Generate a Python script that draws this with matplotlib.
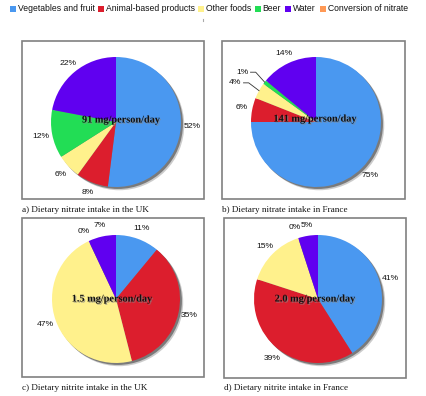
import matplotlib
matplotlib.use("Agg")
import matplotlib.pyplot as plt
import matplotlib.patches as mpatches
import matplotlib.patheffects as pe
import numpy as np

# ---- data ----
categories = ["Vegetables and fruit", "Animal-based products", "Other foods",
              "Beer", "Water", "Conversion of nitrate"]
colors = ["#4A98F0", "#DC1E2D", "#FFF18C", "#22DD55", "#6000F0", "#FF9955"]

nitrate_uk = [52, 8, 6, 12, 22]
nitrate_fr = [75, 6, 4, 1, 14]
nitrite_uk = [11, 35, 47, 0, 7]
nitrite_fr = [41, 39, 15, 0, 5]

totals = ["91 mg/person/day", "141 mg/person/day",
          "1.5 mg/person/day", "2.0 mg/person/day"]
captions = ["a) Dietary nitrate intake in the UK",
            "b) Dietary nitrate intake in France",
            "c) Dietary nitrite intake in the UK",
            "d) Dietary nitrite intake in France"]
series = [nitrate_uk, nitrate_fr, nitrite_uk, nitrite_fr]

# ---- layout (pixels, from top-left) ----
W, H = 426, 396
fig = plt.figure(figsize=(W / 100, H / 100), dpi=100)
fig.patch.set_facecolor("white")

def fx(x):
    return x / W

def fy(y):
    return 1 - y / H

boxes = [(22, 41, 204, 199), (222, 41, 405, 199),
         (22, 218, 204, 377), (224, 218, 406, 378)]
centers = [(116, 122, 65), (316, 122, 65), (116, 299, 64), (318, 299, 64)]
text_pos = [(121, 120), (315, 119), (112, 299), (315, 299)]
caption_y = [210, 210, 388, 388]
# labels that use leader lines (panel index, slice index)
leader = {(1, 2), (1, 3)}

# background axes for boxes/text
bg = fig.add_axes([0, 0, 1, 1])
bg.set_xlim(0, W)
bg.set_ylim(H, 0)
bg.axis("off")

for (x0, y0, x1, y1) in boxes:
    bg.add_patch(mpatches.Rectangle((x0, y0), x1 - x0, y1 - y0, fill=False,
                                    edgecolor="#808080", linewidth=1.2))

for i, cap in enumerate(captions):
    bg.text(boxes[i][0], caption_y[i], cap, fontsize=6.6,
            family="Liberation Serif", va="center", ha="left", color="#111111")

# legend
leg_sq_x = [10, 98, 198, 255, 285, 320]
for xs, lab, col in zip(leg_sq_x, categories, colors):
    bg.add_patch(mpatches.Rectangle((xs, 5.8), 5.8, 5.8, facecolor=col,
                                    edgecolor="none"))
    bg.text(xs + 7.5, 8.9, lab, fontsize=6.25, family="Liberation Sans",
            va="center", ha="left", color="#111111")
bg.plot([203, 203], [18.5, 21], color="#aaaaaa", linewidth=0.8)

# pies
L = 1.5
for i, vals in enumerate(series):
    cx, cy, r = centers[i]
    size = 2 * L * r
    ax = fig.add_axes([fx(cx - size / 2), fy(cy + size / 2),
                       size / W, size / H])
    ax.add_patch(mpatches.Circle((0.05, -0.05), 1.0, color="#999999",
                                 alpha=0.5, zorder=0, lw=0))
    ax.add_patch(mpatches.Circle((0.03, -0.03), 1.0, color="#666666",
                                 alpha=0.8, zorder=0, lw=0))
    wedges, _ = ax.pie(vals, colors=colors[:len(vals)], startangle=90,
                       counterclock=False, radius=1.0,
                       wedgeprops=dict(linewidth=0))
    ax.set_xlim(-L, L)
    ax.set_ylim(-L, L)
    ax.set_aspect("equal")
    ax.axis("off")
    for w in wedges:
        w.set_zorder(1)
    for j, (w, v) in enumerate(zip(wedges, vals)):
        ang = np.deg2rad((w.theta1 + w.theta2) / 2)
        if (i, j) in leader:
            d = 1.25
            tx, ty = d * np.cos(ang), d * np.sin(ang)
            ex, ey = 1.0 * np.cos(ang), 1.0 * np.sin(ang)
            ax.text(tx - 0.05, ty, f"{v}%", fontsize=6.1,
                    family="Liberation Sans", ha="right", va="center",
                    color="#111111")
            ax.plot([tx - 0.02, tx + 0.06, ex], [ty, ty, ey],
                    color="#333333", linewidth=0.6, zorder=3)
        else:
            d = 1.17
            tx, ty = d * np.cos(ang), d * np.sin(ang)
            ax.text(tx, ty, f"{v}%", fontsize=6.1, family="Liberation Sans",
                    ha="center", va="center", color="#111111")

# overlay for centre texts
top = fig.add_axes([0, 0, 1, 1])
top.set_xlim(0, W)
top.set_ylim(H, 0)
top.axis("off")
top.patch.set_alpha(0)
for i, t in enumerate(totals):
    x, y = text_pos[i]
    top.text(x, y, t, fontsize=7.4, family="Liberation Serif",
             fontweight="bold", ha="center", va="center", color="#111111",
             path_effects=[pe.SimplePatchShadow(offset=(0.8, -0.8),
                                                shadow_rgbFace="#888888",
                                                alpha=0.7),
                           pe.Normal()])

fig.savefig("out.png", dpi=100, facecolor="white")
